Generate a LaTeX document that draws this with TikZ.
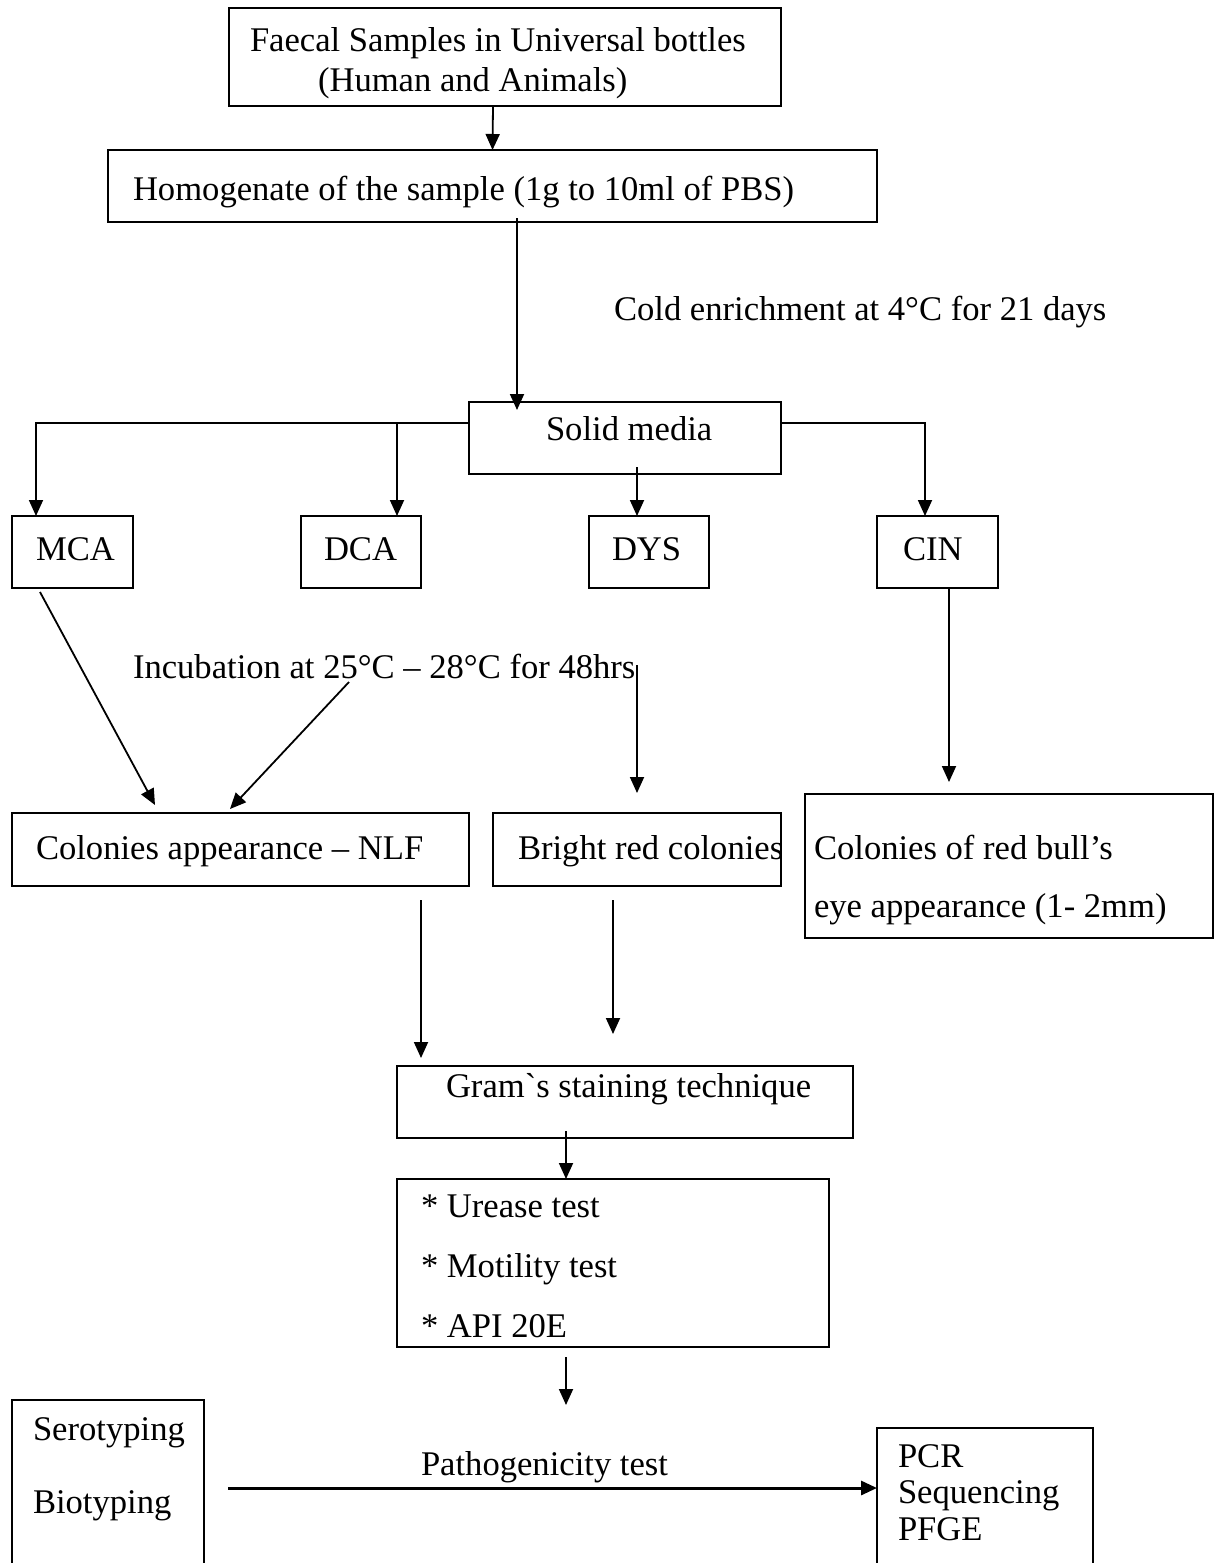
\documentclass[tikz,border=0pt]{standalone}
\usepackage{fontspec}
\setmainfont{Liberation Serif}
\newfontfamily\gravefont{Liberation Serif}
\usetikzlibrary{arrows.meta}
\tikzset{
  box/.style={draw, line width=1.8pt, inner sep=0pt, outer sep=0pt},
  txt/.style={inner sep=0pt, outer sep=0pt, anchor=base west, font=\fontsize{34.6}{40}\selectfont},
  arr/.style={line width=1.8pt, -{Triangle[length=16pt,width=14pt]}},
}
\newcommand{\bx}[5]{\node[box, minimum width={(#4-#2)*1pt}, minimum height={(#5-#3)*1pt}] (#1) at ({(#2+#4)/2},{(#3+#5)/2}) {};}
\begin{document}
\begin{tikzpicture}[x=1pt,y=-1pt]
\clip (0,0) rectangle (1214,1563);
\fill[white] (0,0) rectangle (1214,1563);
% boxes
\bx{b1}{229}{8}{781}{106}
\bx{b2}{108}{150}{877}{222}
\bx{solid}{469}{402}{781}{474}
\bx{mca}{12}{516}{133}{588}
\bx{dca}{301}{516}{421}{588}
\bx{dys}{589}{516}{709}{588}
\bx{cin}{877}{516}{998}{588}
\bx{nlf}{12}{813}{469}{886}
\bx{bright}{493}{813}{781}{886}
\bx{bull}{805}{794}{1213}{938}
\bx{gram}{397}{1066}{853}{1138}
\bx{tests}{397}{1179}{829}{1347}
\bx{sero}{12}{1400}{204}{1620}
\bx{pcr}{877}{1428}{1093}{1620}
% texts
\node[txt] (t1a) at (250,52) {Faecal Samples in Universal bottles};
\node[txt] (t1b) at (318,92) {(Human and Animals)};
\node[txt] (t2) at (133,200) {Homogenate of the sample (1g to 10ml of PBS)};
\node[txt] (cold) at (614,320) {Cold enrichment at 4°C for 21 days};
\node[txt] (tsolid) at (546,440) {Solid media};
\node[txt] (tmca) at (36,560) {MCA};
\node[txt] (tdca) at (324,560) {DCA};
\node[txt] (tdys) at (612,560) {DYS};
\node[txt] (tcin) at (903,560) {CIN};
\node[txt] (inc) at (133,678) {Incubation at 25°C – 28°C for 48hrs};
\node[txt] (tnlf) at (36,859) {Colonies appearance – NLF};
\node[txt] (tbright) at (518,859) {Bright red colonies};
\node[txt] (tbull1) at (814,859) {Colonies of red bull’s};
\node[txt] (tbull2) at (814,917) {eye appearance (1- 2mm)};
\node[txt] (tgram) at (446,1097) {Gram{\gravefont`}s staining technique};
\node[txt] (tt1) at (421,1217) {* Urease test};
\node[txt] (tt2) at (421,1277) {* Motility test};
\node[txt] (tt3) at (421,1337) {* API 20E};
\node[txt] (tsero) at (33,1440) {Serotyping};
\node[txt] (tbio) at (33,1513) {Biotyping};
\node[txt] (tpath) at (421,1475) {Pathogenicity test};
\node[txt] (tpcr) at (898,1467) {PCR};
\node[txt] (tseq) at (898,1503) {Sequencing};
\node[txt] (tpfge) at (898,1540) {PFGE};
% helper coordinates
\coordinate (hl) at ([yshift=15pt]solid.west);
\coordinate (hr) at ([yshift=15pt]solid.east);
\coordinate (dcatop) at ([xshift=36pt]dca.north);
\coordinate (inctop) at ([yshift=148pt]bright.north);
\coordinate (incend) at ([yshift=20pt]bright.north);
\coordinate (testend) at (566,1405);
% connectors
\draw[arr] ([xshift=-12pt]b1.south) -- (b2.north);
\draw[arr] ([xshift=24.5pt,yshift=4pt]b2.south) -- ([xshift=-108pt,yshift=-8pt]solid.north);
\draw[arr] (hl) -| ([xshift=-36.5pt]mca.north);
\draw[arr] (dcatop |- hl) -- (dcatop);
\draw[arr] (hr) -| ([xshift=-12.5pt]cin.north);
\draw[arr] ([xshift=12pt,yshift=7pt]solid.south) -- ([xshift=-12pt]dys.north);
\draw[arr] ([xshift=-32.5pt,yshift=-4pt]mca.south) -- ([xshift=-85.5pt,yshift=8pt]nlf.north);
\draw[arr] ([xshift=216pt,yshift=-4pt]inc.base west) -- ([xshift=-10.5pt,yshift=4pt]nlf.north);
\draw[arr] (inctop) -- (incend);
\draw[arr] ([xshift=11.5pt]cin.south) -- ([xshift=-60pt,yshift=12pt]bull.north);
\draw[arr] ([xshift=180.5pt,yshift=-14pt]nlf.south) -- ([xshift=-204pt,yshift=8pt]gram.north);
\draw[arr] ([xshift=-24pt,yshift=-14pt]bright.south) -- ([xshift=-12pt,yshift=32pt]gram.north);
\draw[arr] ([xshift=-59pt,yshift=7pt]gram.south) -- ([xshift=-47pt]tests.north);
\draw[arr] ([xshift=-47pt,yshift=-10pt]tests.south) -- (testend);
\draw[arr, line width=3pt] ([xshift=24pt]sero.east |- 0,1488) -- (pcr.west |- 0,1488);
\end{tikzpicture}
\end{document}
